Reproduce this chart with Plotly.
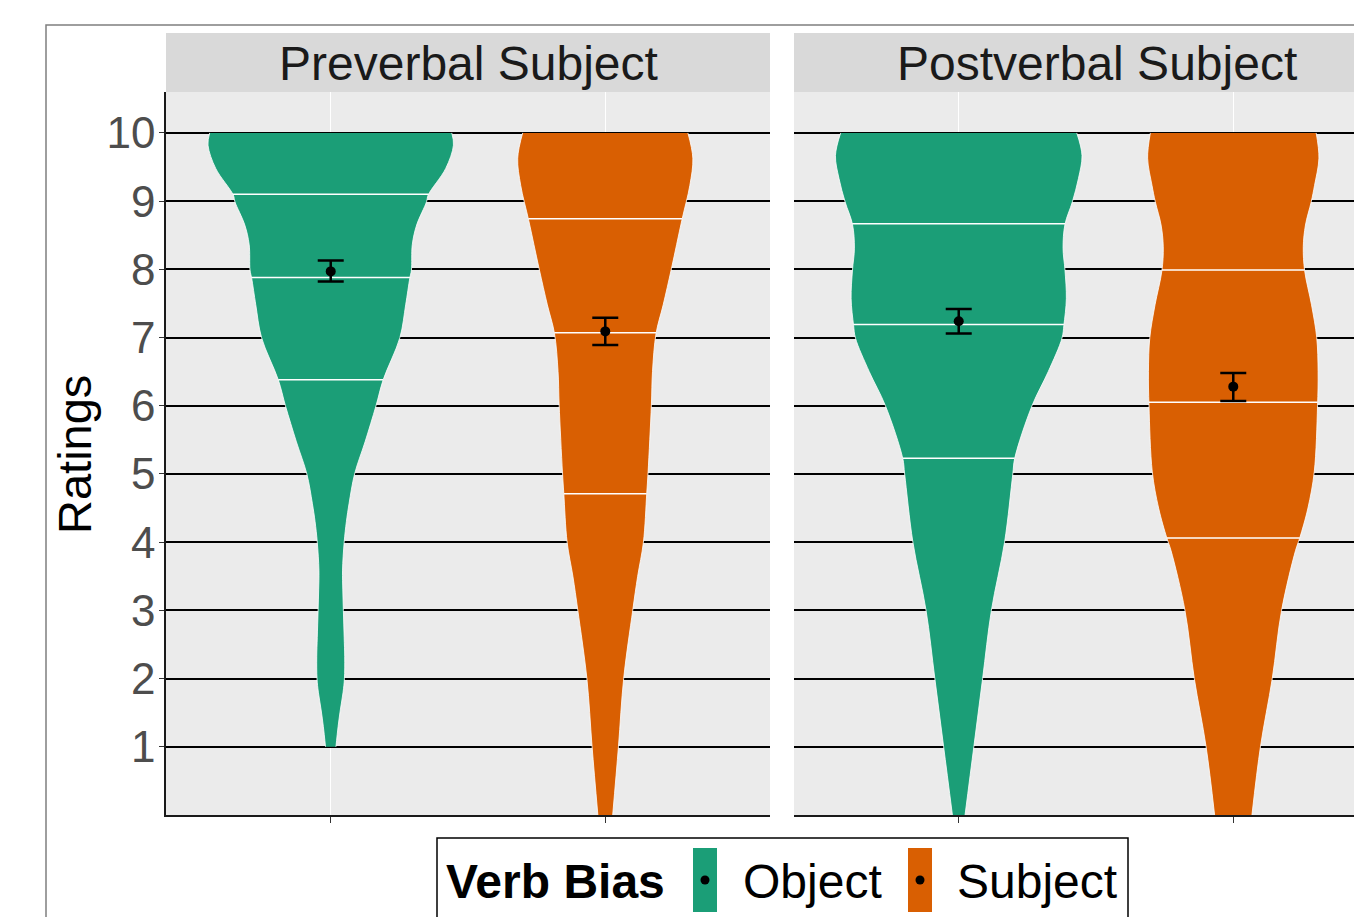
import numpy as np
import plotly.graph_objects as go

W, H = 1362, 917

# ---------------- data ----------------
facets = ["Preverbal Subject", "Postverbal Subject"]
groups = ["Object", "Subject"]
colors = {"Object": "#1B9E77", "Subject": "#D95F02"}

# violin outlines: rating level -> half width (x units)
pre_obj_y = [1.0, 1.3, 1.54, 1.8, 2.0, 2.32, 2.6, 3.0, 3.3, 3.59, 4.0, 4.3, 4.57, 5.0, 5.47, 6.0, 6.38, 7.0, 7.48, 7.87, 7.99, 8.36, 8.65, 8.99, 9.09, 9.48, 9.82, 10.0]
pre_obj_w = [0.019, 0.027, 0.035, 0.045, 0.050, 0.051, 0.049, 0.046, 0.044, 0.043, 0.049, 0.057, 0.067, 0.087, 0.125, 0.165, 0.191, 0.252, 0.273, 0.288, 0.294, 0.297, 0.313, 0.349, 0.355, 0.419, 0.447, 0.441]

pre_subj_y = [0.0, 1.0, 2.0, 3.0, 3.5, 4.0, 4.71, 5.03, 6.01, 6.5, 7.06, 7.48, 8.01, 8.72, 9.23, 9.63, 10.0]
pre_subj_w = [0.027, 0.048, 0.067, 0.100, 0.118, 0.139, 0.151, 0.156, 0.168, 0.172, 0.185, 0.211, 0.241, 0.279, 0.308, 0.319, 0.301]

post_obj_y = [0.0, 1.0, 2.0, 3.0, 4.0, 5.0, 5.23, 6.0, 6.5, 6.99, 7.18, 7.57, 7.99, 8.31, 8.66, 8.99, 9.33, 9.67, 10.0]
post_obj_w = [0.023, 0.055, 0.087, 0.119, 0.167, 0.197, 0.204, 0.267, 0.326, 0.376, 0.383, 0.392, 0.387, 0.380, 0.387, 0.414, 0.436, 0.449, 0.430]

post_subj_y = [0.0, 1.0, 2.0, 3.0, 3.88, 4.06, 4.5, 5.03, 6.0, 6.5, 7.0, 7.48, 7.98, 8.33, 8.65, 8.99, 9.23, 9.63, 10.0]
post_subj_w = [0.068, 0.099, 0.142, 0.176, 0.227, 0.242, 0.272, 0.295, 0.307, 0.309, 0.304, 0.285, 0.260, 0.255, 0.263, 0.284, 0.296, 0.312, 0.302]

# quartiles (25, 50, 75 %)
pre_obj_q = [6.38, 7.88, 9.10]
pre_subj_q = [4.71, 7.07, 8.74]
post_obj_q = [5.23, 7.19, 8.67]
post_subj_q = [4.06, 6.05, 7.99]

# means with error bars (lower, mean, upper)
pre_obj_mean = [7.82, 7.97, 8.13]
pre_subj_mean = [6.89, 7.09, 7.29]
post_obj_mean = [7.06, 7.24, 7.42]
post_subj_mean = [6.07, 6.28, 6.48]

y_ticks = [1, 2, 3, 4, 5, 6, 7, 8, 9, 10]

violins = [
    (0, "Object", pre_obj_y, pre_obj_w, pre_obj_q, pre_obj_mean),
    (0, "Subject", pre_subj_y, pre_subj_w, pre_subj_q, pre_subj_mean),
    (1, "Object", post_obj_y, post_obj_w, post_obj_q, post_obj_mean),
    (1, "Subject", post_subj_y, post_subj_w, post_subj_q, post_subj_mean),
]

# ---------------- layout helpers ----------------
OFF = 8  # page body margin of the browser


def px(x):
    return (x - OFF) / W


def py(y):
    return 1 - (y - OFF) / H


FONT = "Liberation Sans, Arial, sans-serif"
unit = 604 / 2.2  # px per x unit

fig = go.Figure()

for facet, grp, ys, ws, qs, m in violins:
    xa = "x" if facet == 0 else "x2"
    ya = "y" if facet == 0 else "y2"
    c = 1 if grp == "Object" else 2
    ws_a = np.array(ws)
    edge = dict(color="white", width=0.8, shape="spline", smoothing=1.0)
    fig.add_trace(go.Scatter(x=list(c - ws_a), y=ys, mode="lines", line=edge,
                             xaxis=xa, yaxis=ya, showlegend=False, hoverinfo="skip"))
    fig.add_trace(go.Scatter(x=list(c + ws_a), y=ys, mode="lines", line=edge,
                             fill="tonextx", fillcolor=colors[grp],
                             xaxis=xa, yaxis=ya, showlegend=False, hoverinfo="skip"))
    qx, qy = [], []
    for q in qs:
        hw = float(np.interp(q, ys, ws))
        qx += [c - hw, c + hw, None]
        qy += [q, q, None]
    fig.add_trace(go.Scatter(x=qx, y=qy, mode="lines", line=dict(color="white", width=1.5),
                             xaxis=xa, yaxis=ya, showlegend=False, hoverinfo="skip"))
    fig.add_trace(go.Scatter(
        x=[c], y=[m[1]], mode="markers", marker=dict(color="black", size=10),
        error_y=dict(type="data", symmetric=False, array=[m[2] - m[1]], arrayminus=[m[1] - m[0]],
                     color="black", thickness=2.5, width=13),
        xaxis=xa, yaxis=ya, showlegend=False, hoverinfo="skip"))

ydom = [py(815), py(92)]
common_x = dict(tickvals=[1, 2], showticklabels=False, ticks="outside", ticklen=6,
                tickcolor="#333333", tickwidth=1, showgrid=True, gridcolor="white", gridwidth=1.2,
                showline=True, linecolor="#1a1a1a", linewidth=1.5, zeroline=False, fixedrange=True)
common_y = dict(range=[0, 10.6], tickvals=y_ticks, showgrid=True, gridcolor="black", gridwidth=1.6,
                zeroline=False, fixedrange=True)

fig.update_layout(
    width=W, height=H, margin=dict(l=0, r=0, t=0, b=0),
    paper_bgcolor="white", plot_bgcolor="#EBEBEB", showlegend=False,
    font=dict(family=FONT),
    xaxis=dict(domain=[px(166), px(770)], range=[0.4, 2.6], anchor="y", **common_x),
    xaxis2=dict(domain=[px(794), 1.0], range=[0.4, 0.4 + (W + OFF - 794) / unit], anchor="y2", **common_x),
    yaxis=dict(domain=ydom, anchor="x", ticks="outside", ticklen=5, tickcolor="#333333",
               ticklabelstandoff=-5,
               tickfont=dict(size=44, color="#4D4D4D", family=FONT),
               showline=True, linecolor="#1a1a1a", linewidth=1.5, **common_y),
    yaxis2=dict(domain=ydom, anchor="x2", showticklabels=False, ticks="", showline=False,
                matches="y", **common_y),
)

shapes = []
annotations = []
# outer border (cropped on right/bottom)
shapes.append(dict(type="rect", xref="paper", yref="paper", x0=px(46), x1=px(1420), y0=py(25), y1=py(980),
                   line=dict(color="#7F7F7F", width=1.5), fillcolor="rgba(0,0,0,0)", layer="below"))
# strips
for x0, x1, label, cx in [(166, 770, facets[0], 468), (794, 1420, facets[1], 1097)]:
    shapes.append(dict(type="rect", xref="paper", yref="paper", x0=px(x0), x1=px(x1), y0=py(92), y1=py(33),
                       line=dict(width=0), fillcolor="#D9D9D9", layer="below"))
    annotations.append(dict(text=label, xref="paper", yref="paper", x=px(cx), y=py(63),
                            xanchor="center", yanchor="middle", showarrow=False,
                            font=dict(size=48, color="#1A1A1A", family=FONT)))
# y title
annotations.append(dict(text="Ratings", xref="paper", yref="paper", x=px(75), y=py(455),
                        xanchor="center", yanchor="middle", showarrow=False, textangle=-90,
                        font=dict(size=47, color="black", family=FONT)))
# legend
shapes.append(dict(type="rect", xref="paper", yref="paper", x0=px(437), x1=px(1128), y0=py(838), y1=py(990),
                   line=dict(color="black", width=1.5), fillcolor="white"))
annotations.append(dict(text="<b>Verb Bias</b>", xref="paper", yref="paper", x=px(444), y=py(881),
                        xanchor="left", yanchor="middle", showarrow=False,
                        font=dict(size=48, color="black", family=FONT)))
for grp, kx, tx in [("Object", 693, 741), ("Subject", 908, 955)]:
    shapes.append(dict(type="rect", xref="paper", yref="paper", x0=px(kx), x1=px(kx + 24), y0=py(912), y1=py(848),
                       line=dict(width=0), fillcolor=colors[grp]))
    shapes.append(dict(type="circle", xref="paper", yref="paper", x0=px(kx + 12 - 4.5), x1=px(kx + 12 + 4.5),
                       y0=py(880 + 4.5), y1=py(880 - 4.5), line=dict(width=0), fillcolor="black"))
    annotations.append(dict(text=grp, xref="paper", yref="paper", x=px(tx), y=py(881),
                            xanchor="left", yanchor="middle", showarrow=False,
                            font=dict(size=48, color="black", family=FONT)))

fig.update_layout(shapes=shapes, annotations=annotations)
fig.write_html("out.html")
